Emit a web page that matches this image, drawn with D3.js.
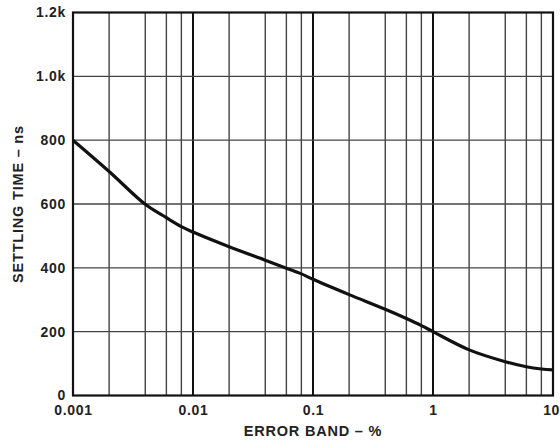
<!DOCTYPE html>
<html><head><meta charset="utf-8">
<script src="https://cdn.jsdelivr.net/npm/d3@7"></script>
<style>body{margin:0;background:#fff}</style>
</head><body>
<svg id="c" width="560" height="441"></svg>
<script>
const errorBand = [0.001, 0.002, 0.004, 0.006, 0.008, 0.01, 0.02, 0.04, 0.06, 0.08, 0.1, 0.2, 0.4, 0.6, 0.8, 1, 2, 4, 6, 8, 10];
const settlingTime = [800, 702, 599, 557, 529, 512, 466, 424, 399, 381, 364, 316, 270, 241, 219, 200, 143, 106, 90, 83, 80];
const xTickValues = [0.001, 0.01, 0.1, 1, 10];
const xTickLabels = ["0.001", "0.01", "0.1", "1", "10"];
const yTickValues = [0, 200, 400, 600, 800, 1000, 1200];
const yTickLabels = ["0", "200", "400", "600", "800", "1.0k", "1.2k"];
const xGrid = [];
[0.001, 0.01, 0.1, 1].forEach(d => [1, 2, 4, 6, 8].forEach(m => xGrid.push(d * m)));

const L = 73, R = 553, T = 12.5, B = 395.5;
const svg = d3.select("#c");
const x = d3.scaleLog().domain([0.001, 10]).range([L, R]);
const y = d3.scaleLinear().domain([0, 1200]).range([B, T]);
const font = "'Liberation Sans', Arial, Helvetica, sans-serif";
const isDecade = d => Math.abs(Math.log10(d) - Math.round(Math.log10(d))) < 1e-9;

// vertical grid
svg.append("g").selectAll("line").data(xGrid.filter(v => v > 0.001)).join("line")
  .attr("x1", d => x(d)).attr("x2", d => x(d)).attr("y1", T).attr("y2", B)
  .attr("stroke", d => isDecade(d) ? "#111" : "#444")
  .attr("stroke-width", d => isDecade(d) ? 2 : 1.4);
// horizontal grid
svg.append("g").selectAll("line").data(yTickValues.slice(1, -1)).join("line")
  .attr("x1", L).attr("x2", R).attr("y1", d => y(d)).attr("y2", d => y(d))
  .attr("stroke", "#444").attr("stroke-width", 1.4);

// border
svg.append("rect").attr("x", L).attr("y", T).attr("width", R - L).attr("height", B - T)
  .attr("fill", "none").attr("stroke", "#111").attr("stroke-width", 2.2);

// axes via d3
const xAxis = d3.axisBottom(x).tickValues(xTickValues).tickSize(0).tickPadding(10)
  .tickFormat((d, i) => xTickLabels[i]);
const gx = svg.append("g").attr("transform", `translate(0,${B})`).call(xAxis);
gx.select(".domain").remove();
gx.selectAll("text").attr("font-family", font).attr("font-weight", "bold").attr("font-size", 14)
  .attr("letter-spacing", "0.7px").attr("fill", "#222");
// keep the last label inside the frame
gx.selectAll(".tick").filter(d => d === 10).select("text")
  .attr("text-anchor", "end").attr("dx", 6).attr("letter-spacing", "0.3px");

const yAxis = d3.axisLeft(y).tickValues(yTickValues).tickSize(0).tickPadding(7)
  .tickFormat((d, i) => yTickLabels[i]);
const gy = svg.append("g").attr("transform", `translate(${L},0)`).call(yAxis);
gy.select(".domain").remove();
gy.selectAll("text").attr("font-family", font).attr("font-weight", "bold").attr("font-size", 14)
  .attr("letter-spacing", "0.7px").attr("fill", "#222");

// curve
const line = d3.line().x((d, i) => x(errorBand[i])).y(d => y(d)).curve(d3.curveCatmullRom.alpha(0.5));
svg.append("path").datum(settlingTime).attr("d", line)
  .attr("fill", "none").attr("stroke", "#111").attr("stroke-width", 3.2).attr("stroke-linejoin", "round");

// titles
svg.append("text").attr("x", (L + R) / 2).attr("y", 436).attr("text-anchor", "middle")
  .attr("font-family", font).attr("font-weight", "bold").attr("font-size", 14.5)
  .attr("letter-spacing", "0.8px").attr("fill", "#222")
  .text("ERROR BAND – %");
svg.append("text").attr("transform", `translate(23,${(T + B) / 2}) rotate(-90)`).attr("text-anchor", "middle")
  .attr("font-family", font).attr("font-weight", "bold").attr("font-size", 14.5)
  .attr("letter-spacing", "0.8px").attr("fill", "#222")
  .text("SETTLING TIME – ns");
</script>
</body></html>
